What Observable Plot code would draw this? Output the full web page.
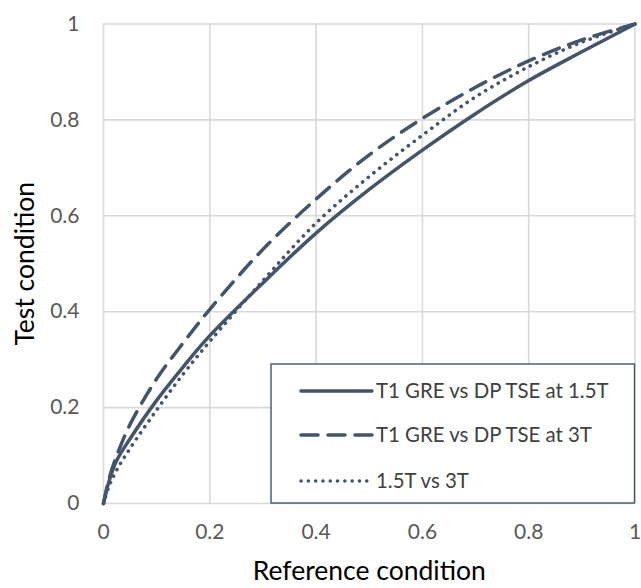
<!DOCTYPE html>
<html>
<head>
<meta charset="utf-8">
<script src="https://cdn.jsdelivr.net/npm/d3@7"></script>
<script src="https://cdn.jsdelivr.net/npm/@observablehq/plot@0.6"></script>
<style>
  html, body { margin: 0; padding: 0; background: #fff; }
  #chart { width: 641px; height: 588px; }
</style>
</head>
<body>
<div id="chart"></div>
<script>
// ---- data ----
const xValues      = [0, 0.01, 0.025, 0.05, 0.1, 0.15, 0.2, 0.3, 0.4, 0.5, 0.6, 0.7, 0.8, 0.9, 1];
const solidValues  = [0, 0.045, 0.09, 0.135, 0.215, 0.285, 0.35, 0.46, 0.564, 0.655, 0.737, 0.813, 0.882, 0.942, 1];
const dashedValues = [0, 0.05, 0.1, 0.165, 0.26, 0.335, 0.405, 0.53, 0.635, 0.727, 0.803, 0.868, 0.923, 0.967, 1];
const dottedValues = [0, 0.035, 0.07, 0.115, 0.195, 0.27, 0.338, 0.465, 0.585, 0.682, 0.768, 0.848, 0.911, 0.962, 1];
const seriesNames  = ["T1 GRE vs DP TSE at 1.5T", "T1 GRE vs DP TSE at 3T", "1.5T vs 3T"];
const xTicks = [0, 0.2, 0.4, 0.6, 0.8, 1];
const yTicks = [0, 0.2, 0.4, 0.6, 0.8, 1];
const xTickLabels = ["0", "0.2", "0.4", "0.6", "0.8", "1"];
const yTickLabels = ["0", "0.2", "0.4", "0.6", "0.8", "1"];

const lineColor = "#44546A";
const font = "Lato, 'Open Sans', sans-serif";

const solid  = xValues.map((x, i) => ({x, y: solidValues[i]}));
const dashed = xValues.map((x, i) => ({x, y: dashedValues[i]}));
const dotted = xValues.map((x, i) => ({x, y: dottedValues[i]}));

const dashes = [null, "17,10", "0.1,7.2"];

const W = 641, H = 588;
const plot = Plot.plot({
  width: W,
  height: H,
  marginLeft: 103,
  marginRight: 6.5,
  marginTop: 23.5,
  marginBottom: 85,
  style: {fontFamily: font, background: "#fff", overflow: "visible"},
  x: {domain: [0, 1]},
  y: {domain: [0, 1]},
  marks: [
    Plot.gridX(xTicks, {stroke: "#D9D9D9", strokeOpacity: 1, strokeWidth: 1.6}),
    Plot.gridY(yTicks, {stroke: "#D9D9D9", strokeOpacity: 1, strokeWidth: 1.6}),
    Plot.axisX(xTicks, {tickSize: 0, tickPadding: 21, fontSize: 21, fill: "#595959",
      tickFormat: (d) => xTickLabels[xTicks.indexOf(d)],
      label: null}),
    Plot.axisY(yTicks, {tickSize: 0, tickPadding: 24, fontSize: 21, fill: "#595959",
      tickFormat: (d) => yTickLabels[yTicks.indexOf(d)],
      label: null}),
    Plot.line(solid,  {x: "x", y: "y", stroke: lineColor, strokeWidth: 3.5, curve: "catmull-rom"}),
    Plot.line(dashed, {x: "x", y: "y", stroke: lineColor, strokeWidth: 3.5, curve: "catmull-rom",
      strokeDasharray: dashes[1], strokeLinecap: "round"}),
    Plot.line(dotted, {x: "x", y: "y", stroke: lineColor, strokeWidth: 3.6, curve: "catmull-rom",
      strokeDasharray: dashes[2], strokeLinecap: "round"}),
    Plot.text(["Reference condition"], {frameAnchor: "bottom", dy: 76, fontSize: 26.5, fill: "#000",
      fontFamily: font}),
    Plot.text(["Test condition"], {frameAnchor: "left", textAnchor: "middle", dx: -78, rotate: -90,
      fontSize: 26.5, fill: "#000", fontFamily: font})
  ]
});

// legend inside the plot
const svg = d3.select(plot);
const g = svg.append("g").attr("font-family", font).attr("text-anchor", "start");
g.append("rect").attr("x", 271).attr("y", 364).attr("width", 363.5).attr("height", 139)
  .attr("fill", "#fff").attr("stroke", lineColor).attr("stroke-width", 1.4);
const rowY = [391, 435, 481];
seriesNames.forEach((name, i) => {
  const line = g.append("line").attr("x1", 301).attr("x2", 372).attr("y1", rowY[i]).attr("y2", rowY[i])
    .attr("stroke", lineColor).attr("stroke-width", 3.5).attr("stroke-linecap", "round");
  if (dashes[i]) line.attr("stroke-dasharray", dashes[i]);
  g.append("text").attr("x", 376).attr("y", rowY[i]).attr("dy", "0.36em")
    .attr("font-size", 20.4).attr("fill", "#404040").text(name);
});

document.getElementById("chart").appendChild(plot);
</script>
</body>
</html>
